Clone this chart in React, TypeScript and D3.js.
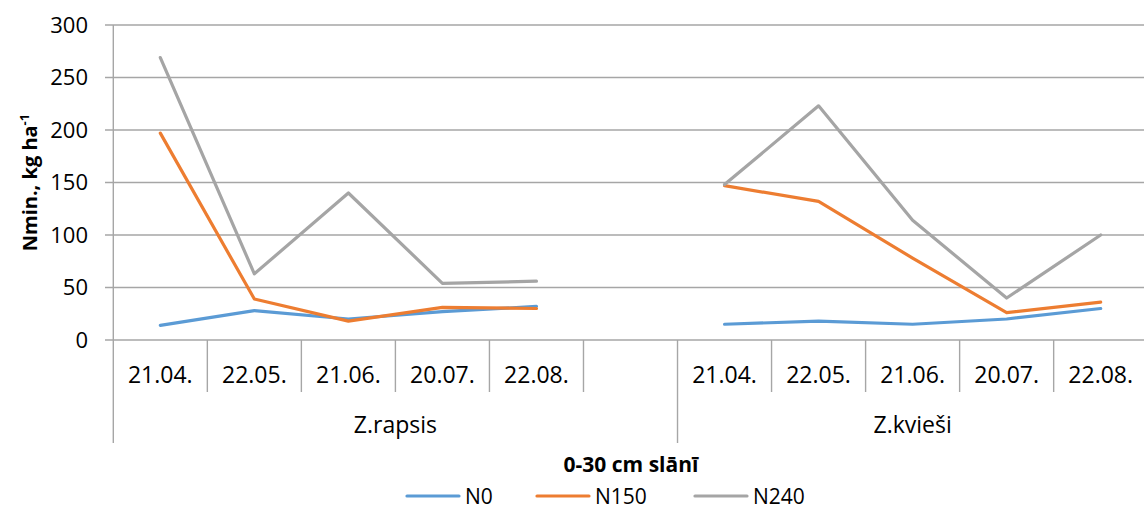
import React from "react";
import * as d3 from "d3";

const dates = ["21.04.", "22.05.", "21.06.", "20.07.", "22.08."];
const groups = ["Z.rapsis", "Z.kvieši"];
const yTicks = [0, 50, 100, 150, 200, 250, 300];
const seriesNames = ["N0", "N150", "N240"];
const seriesColors = ["#5B9BD5", "#ED7D31", "#A5A5A5"];

const n0Rapsis = [14, 28, 20, 27, 32];
const n150Rapsis = [197, 39, 18, 31, 30];
const n240Rapsis = [269, 63, 140, 54, 56];
const n0Kviesi = [15, 18, 15, 20, 30];
const n150Kviesi = [147, 132, 78, 26, 36];
const n240Kviesi = [148, 223, 114, 40, 100];

const seriesData = [
  [n0Rapsis, n0Kviesi],
  [n150Rapsis, n150Kviesi],
  [n240Rapsis, n240Kviesi],
];

// slots: group 0 has 5 dates + one empty slot, group 1 has 5 dates
const slotsPerGroup = [dates.length + 1, dates.length];
const slots: { key: string; group: number; label: string }[] = [];
groups.forEach((g, gi) => {
  for (let i = 0; i < slotsPerGroup[gi]; i++) {
    slots.push({ key: `${gi}-${i}`, group: gi, label: dates[i] || "" });
  }
});

const W = 1144;
const H = 509;
const FONT = "'Open Sans', sans-serif";
const left = 113.3;
const right = 1147.7;
const top = 25;
const bottom = 340;
const legendX = [407, 537, 695];

export default function App() {
  const x = d3.scaleBand<string>().domain(slots.map((s) => s.key)).range([left, right]).paddingInner(0).paddingOuter(0);
  const y = d3.scaleLinear().domain([0, 300]).range([bottom, top]);
  const bw = x.bandwidth();
  const line = d3
    .line<[string, number]>()
    .x((d) => (x(d[0]) as number) + bw / 2)
    .y((d) => y(d[1]));

  const groupStarts: number[] = [];
  let acc = 0;
  slotsPerGroup.forEach((n) => {
    groupStarts.push(acc);
    acc += n;
  });

  return (
    <svg width={W} height={H} style={{ position: "absolute", left: 0, top: 0, background: "#fff" }} fontFamily={FONT}>
      {yTicks.map((t) => (
        <g key={t}>
          <line x1={105} x2={W} y1={y(t)} y2={y(t)} stroke="#A6A6A6" strokeWidth={1.4} />
          <text x={88} y={y(t)} dy="0.36em" textAnchor="end" fontSize={22} fill="#000">
            {t}
          </text>
        </g>
      ))}
      <line x1={left} x2={left} y1={top} y2={443} stroke="#A6A6A6" strokeWidth={1.4} />
      {slots.map((s, i) => {
        const xs = x(s.key) as number;
        const isGroupStart = groupStarts.includes(i);
        return (
          <g key={s.key}>
            {i > 0 && (
              <line x1={xs} x2={xs} y1={bottom} y2={isGroupStart ? 443 : 392} stroke="#A6A6A6" strokeWidth={1.4} />
            )}
            <text x={xs + bw / 2} y={375} dy="0.36em" textAnchor="middle" fontSize={23} fill="#000">
              {s.label}
            </text>
          </g>
        );
      })}
      {groups.map((g, gi) => {
        const startKey = slots[groupStarts[gi]].key;
        const endKey = slots[groupStarts[gi] + slotsPerGroup[gi] - 1].key;
        const x0 = x(startKey) as number;
        const x1 = (x(endKey) as number) + bw;
        return (
          <text key={g} x={(x0 + x1) / 2} y={425} dy="0.36em" textAnchor="middle" fontSize={23} fill="#000">
            {g}
          </text>
        );
      })}
      {seriesData.map((sd, si) =>
        sd.map((vals, gi) => {
          const pts: [string, number][] = vals.map((v, i) => [slots[groupStarts[gi] + i].key, v]);
          return (
            <path
              key={`${si}-${gi}`}
              d={line(pts) || ""}
              fill="none"
              stroke={seriesColors[si]}
              strokeWidth={3.2}
              strokeLinejoin="round"
              strokeLinecap="round"
            />
          );
        })
      )}
      <text
        transform={`translate(37, ${(top + bottom) / 2}) rotate(-90)`}
        textAnchor="middle"
        fontSize={20}
        fontWeight="bold"
        fill="#000"
      >
        Nmin., kg ha
        <tspan fontSize={13} dy={-8}>
          -1
        </tspan>
      </text>
      <text x={631} y={472} textAnchor="middle" fontSize={21} fontWeight="bold" fill="#000">
        0-30 cm slānī
      </text>
      {seriesNames.map((n, i) => (
        <g key={n}>
          <line x1={legendX[i]} x2={legendX[i] + 52} y1={496} y2={496} stroke={seriesColors[i]} strokeWidth={3.2} strokeLinecap="round" />
          <text x={legendX[i] + 58} y={496} dy="0.36em" fontSize={21} fill="#000">
            {n}
          </text>
        </g>
      ))}
    </svg>
  );
}
